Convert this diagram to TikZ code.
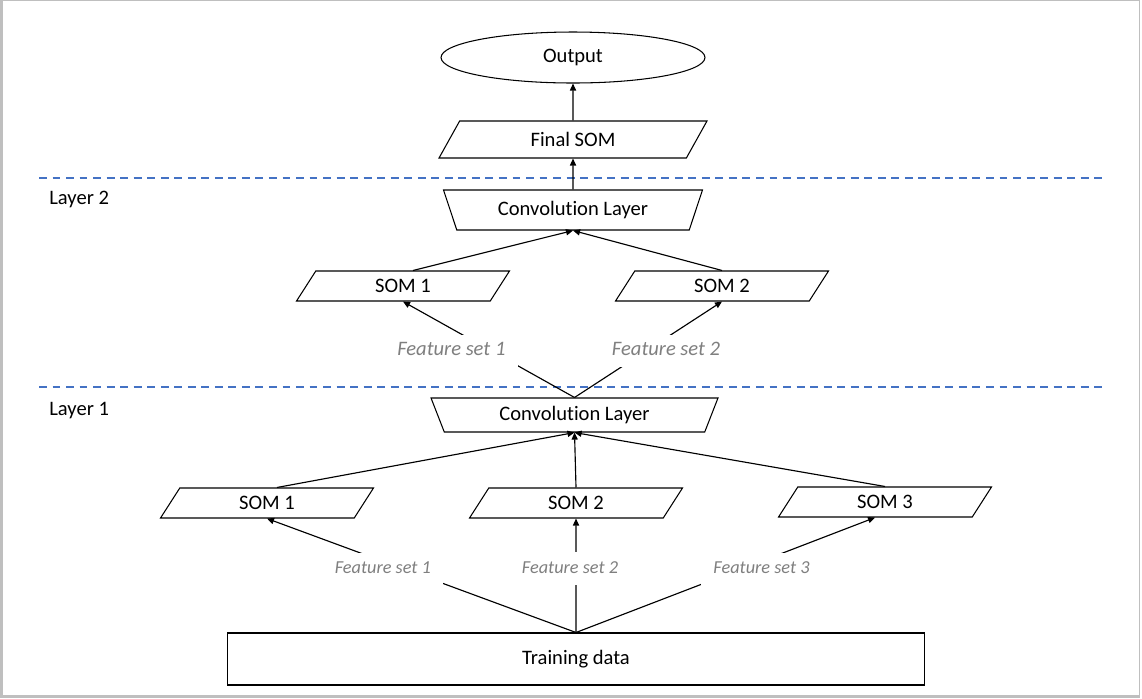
\documentclass[tikz,border=0pt]{standalone}
\usepackage{fontspec}
\setmainfont{Carlito}[Ligatures=NoCommon]
\usepackage{xcolor}
\usepackage{tikz}
\usetikzlibrary{arrows.meta, shapes.geometric}
\definecolor{sepblue}{HTML}{4472C4}
\definecolor{fsgray}{HTML}{7F7F7F}
\definecolor{framegray}{HTML}{BFBFBF}
\newcommand\mainsize{\fontsize{11.7}{14}\selectfont}
\newcommand\fssize{\fontsize{10.4}{12.5}\selectfont}
\tikzset{
  somshape/.style  = {trapezium, draw, line width=0.6pt, inner sep=0pt,
                      trapezium left angle=35, trapezium right angle=145,
                      trapezium stretches body, font=\mainsize,
                      minimum width=4.26cm, minimum height=0.6cm},
  finalshape/.style= {somshape, minimum width=5.36cm, minimum height=0.74cm},
  convshape/.style = {trapezium, draw, line width=0.6pt, inner sep=0pt,
                      trapezium left angle=127, trapezium right angle=127,
                      trapezium stretches body, font=\mainsize},
  outshape/.style  = {ellipse, draw, line width=0.6pt, inner sep=0pt,
                      font=\mainsize, minimum width=5.28cm, minimum height=1.02cm},
  databox/.style   = {rectangle, draw, line width=0.6pt, font=\mainsize,
                      minimum width=13.96cm, minimum height=1.04cm},
  fslabel/.style   = {fill=white, text=fsgray, font=\mainsize\itshape,
                      inner xsep=7pt, inner ysep=4.3pt,
                      text height=.75em, text depth=.25em},
  fslabelsm/.style = {fslabel, font=\fssize\itshape},
  layerlbl/.style  = {anchor=west, inner sep=0pt, font=\mainsize},
  sepline/.style   = {draw=sepblue, line width=0.85pt,
                      dash pattern=on 4.5pt off 3.2pt},
  arr/.style       = {-{Triangle[length=4pt, width=3.5pt]}, line width=0.65pt},
}

\begin{document}
\begin{tikzpicture}[x=0.02cm, y=-0.02cm]
  \useasboundingbox (0,0) rectangle (1142,698);
  \fill[framegray] (0,0) rectangle (1140,698);
  \fill[white] (3,1) rectangle (1139,695);

  \draw[sepline] (39,178) -- (1102,178);
  \draw[sepline] (39,387) -- (1102,387);
  \node[layerlbl] (lay2) at (49,199) {Layer 2};
  \node[layerlbl] (lay1) at (49,411) {Layer 1};

  \node[outshape]   (out)    at (573,57.5)  {Output};
  \node[finalshape] (final)  at (573,139.5) {Final SOM};
  \node[convshape, minimum width=5.18cm, minimum height=0.8cm]
                    (conv2)  at (573,210)   {Convolution Layer};
  \node[somshape]   (l2som1) at (403,286)   {SOM 1};
  \node[somshape]   (l2som2) at (722,286)   {SOM 2};
  \node[convshape, minimum width=5.74cm, minimum height=0.68cm]
                    (conv1)  at (574.5,415) {Convolution Layer};
  \node[somshape]   (l1som1) at (267,503)   {SOM 1};
  \node[somshape]   (l1som2) at (576,503)   {SOM 2};
  \node[somshape]   (l1som3) at (885,502)   {SOM 3};
  \node[databox]    (train)  at (576,659)   {Training data};

  \draw[arr] (final.north) -- (out.south);
  \draw[arr] (conv2.north) -- (final.south);
  \draw[arr] (l2som1.top side) -- (conv2.south);
  \draw[arr] (l2som2.north) -- (conv2.south);
  \draw[arr] (conv1.north) -- node[fslabel, pos=0.485, xshift=-0.8cm] {Feature set 1} (l2som1.south);
  \draw[arr] (conv1.north) -- node[fslabel, pos=0.485, xshift=0.4cm] {Feature set 2} (l2som2.south);
  \draw[arr] (l1som1.top side) -- (conv1.south);
  \draw[arr] (l1som2.north) -- (conv1.south);
  \draw[arr] (l1som3.north) -- (conv1.south);
  \draw[arr] (train.north) -- node[fslabelsm, pos=0.557, xshift=-0.42cm] {Feature set 1} (l1som1.south);
  \draw[arr] (train.north) -- node[fslabelsm, pos=0.56, xshift=-0.12cm] {Feature set 2} (l1som2.south);
  \draw[arr] (train.north) -- node[fslabelsm, pos=0.55, xshift=0.42cm] {Feature set 3} (l1som3.bottom side);
\end{tikzpicture}
\end{document}
